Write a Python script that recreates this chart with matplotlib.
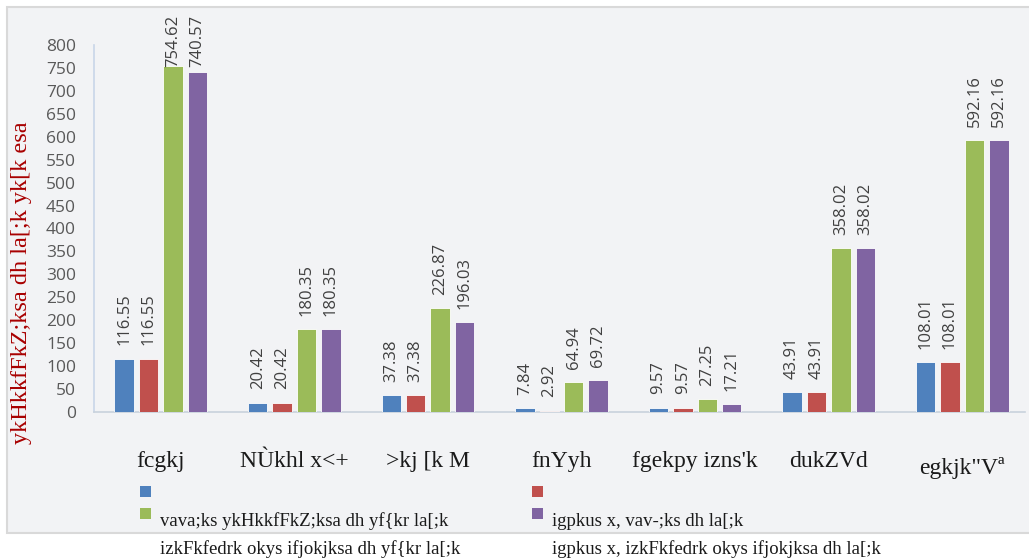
import numpy as np
import matplotlib
matplotlib.use("Agg")
import matplotlib.pyplot as plt
import matplotlib.transforms as mtransforms
from matplotlib.patches import Rectangle

# ---- data ----
states = ["fcgkj", "NÙkhl x<+", ">kj [k M", "fnYyh", "fgekpy izns'k", "dukZVd", "egkjk\"Vª"]
blue_vals = [116.55, 20.42, 37.38, 7.84, 9.57, 43.91, 108.01]
red_vals = [116.55, 20.42, 37.38, 2.92, 9.57, 43.91, 108.01]
green_vals = [754.62, 180.35, 226.87, 64.94, 27.25, 358.02, 592.16]
purple_vals = [740.57, 180.35, 196.03, 69.72, 17.21, 358.02, 592.16]
series = [blue_vals, red_vals, green_vals, purple_vals]
colors = ["#4f81bd", "#c0504d", "#9bbb59", "#8064a2"]
legend_lines = [
    [""],
    [""],
    ["vava;ks ykHkkfFkZ;ksa dh yf{kr la[;k", "izkFkfedrk okys ifjokjksa dh yf{kr la[;k"],
    ["igpkus x, vav-;ks dh la[;k", "igpkus x, izkFkfedrk okys ifjokjksa dh la[;k"],
]
ylabel = "ykHkkfFkZ;ksa dh la[;k yk[k esa"
yticks = np.arange(0, 801, 50)

W, H = 1029, 558
fig = plt.figure(figsize=(W / 100, H / 100), dpi=100)
fig.patch.set_facecolor("white")

# chart area background
fig.patches.append(Rectangle((7 / W, 1 - 533 / H), (1040 - 7) / W, (533 - 7) / H,
                             transform=fig.transFigure, facecolor="#f2f3f5",
                             edgecolor="#d9d9d9", lw=1.5, zorder=-10))

ax = fig.add_axes([94 / W, 1 - 412 / H, (1025 - 94) / W, (412 - 45) / H])
ax.set_facecolor("#f2f3f5")

x = np.arange(len(states))
slot = 0.183
bw = 0.146
ax.set_xlim(-0.5, 6.47)
ax.set_ylim(0, 800)

for i, (vals, c) in enumerate(zip(series, colors)):
    xs = x + (i - 1.5) * slot
    ax.bar(xs, vals, width=bw, color=c, edgecolor="white", linewidth=0.6, zorder=3)
    for xi, v in zip(xs, vals):
        # labels that would run past the chart top get pinned below it
        if v > 720:
            ax.annotate(f"{v:.2f}", (xi, 1), xycoords=("data", "axes fraction"),
                        xytext=(0, 21.5), textcoords="offset points",
                        rotation=90, ha="center", va="top",
                        fontsize=12, color="#404040", family="Open Sans",
                        annotation_clip=False)
        else:
            ax.annotate(f"{v:.2f}", (xi, v), xytext=(0, 9.5), textcoords="offset points",
                        rotation=90, ha="center", va="bottom",
                        fontsize=12, color="#404040", family="Open Sans",
                        annotation_clip=False)

ax.set_yticks(yticks)
ax.set_yticklabels([str(t) for t in yticks], fontsize=12.5, color="#595959", family="Open Sans")
ax.tick_params(axis="y", length=0, pad=13)
ax.set_xticks(x)
ax.set_xticklabels(states, fontsize=17, family="Liberation Serif", color="#1a1a1a")
ax.tick_params(axis="x", length=0, pad=28)
# last label sits a bit lower in the original
lab = ax.get_xticklabels()[-1]
lab.set_transform(lab.get_transform() + mtransforms.ScaledTranslation(0, -6 / 100, fig.dpi_scale_trans))

for s in ["top", "right"]:
    ax.spines[s].set_visible(False)
ax.spines["left"].set_color("#c9d6e8")
ax.spines["bottom"].set_color("#c9d2dc")
ax.spines["left"].set_linewidth(1.2)
ax.spines["bottom"].set_linewidth(1.2)

fig.text(22 / W, 1 - 283 / H, ylabel, rotation=90, ha="center", va="center",
         fontsize=17.5, family="Liberation Serif", color="#a80000")

# legend, two columns
col_x = [140, 532]
row_y = [486, 508]
for i, (c, lines) in enumerate(zip(colors, legend_lines)):
    cx = col_x[i % 2]
    ry = row_y[i // 2]
    fig.patches.append(Rectangle((cx / W, 1 - (ry + 11) / H), 11 / W, 11 / H,
                                 transform=fig.transFigure, facecolor=c, edgecolor="none"))
    for j, line in enumerate(lines):
        fig.text((cx + 20) / W, 1 - (526 + 28 * j) / H, line, ha="left", va="baseline",
                 fontsize=13.5, family="Liberation Serif", color="#1a1a1a")

fig.savefig("out.png", dpi=100)
